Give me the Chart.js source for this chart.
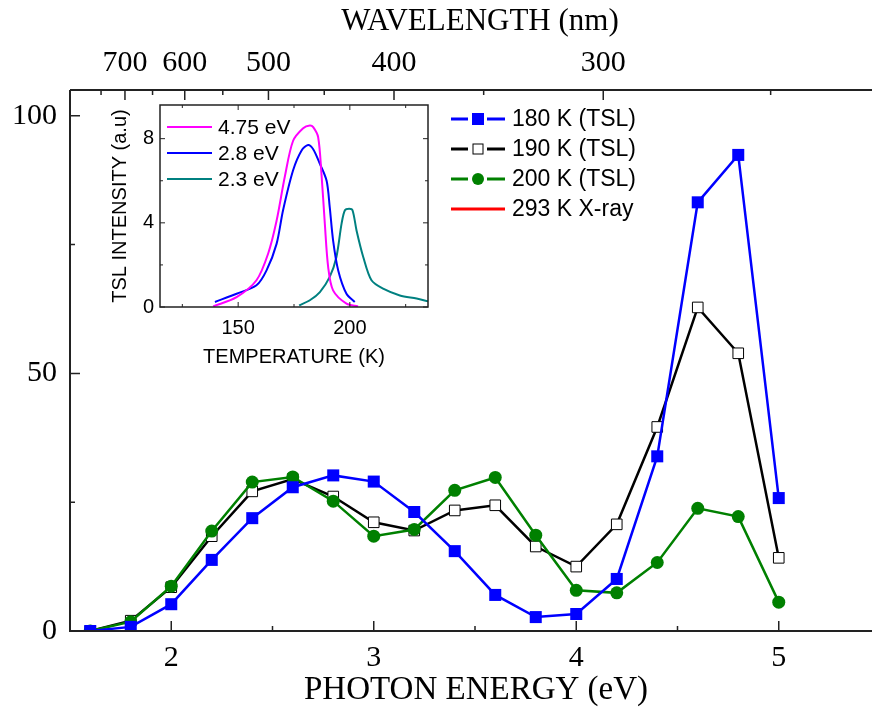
<!DOCTYPE html>
<html>
<head>
<meta charset="utf-8">
<title>TSL spectra</title>
<script src="https://cdn.jsdelivr.net/npm/chart.js@4.4.1/dist/chart.umd.min.js"></script>
<style>
  html, body { margin: 0; padding: 0; background: #fff; overflow: hidden; }
  #wrap { position: relative; width: 880px; height: 709px; }
  #mainBox { position: absolute; left: 0; top: 0; }
  #insetBox { position: absolute; left: 100px; top: 95px; }
</style>
</head>
<body>
<div id="wrap">
  <div id="mainBox"><canvas id="mainChart" width="880" height="709"></canvas></div>
  <div id="insetBox"><canvas id="insetChart" width="340" height="285"></canvas></div>
</div>
<script>
// main plot: photon energy (eV) vs intensity
const energy = [1.6, 1.8, 2.0, 2.2, 2.4, 2.6, 2.8, 3.0, 3.2, 3.4, 3.6, 3.8, 4.0, 4.2, 4.4, 4.6, 4.8, 5.0];
const tsl180 = [0, 0.8, 5.2, 13.8, 21.9, 27.9, 30.2, 29.0, 23.1, 15.5, 7.0, 2.7, 3.3, 10.1, 33.9, 83.2, 92.4, 25.8];
const tsl190 = [0, 2.0, 8.5, 18.4, 27.1, 29.5, 26.1, 21.1, 19.5, 23.4, 24.4, 16.4, 12.5, 20.7, 39.6, 62.8, 53.9, 14.2];
const tsl200 = [0, 1.8, 8.7, 19.4, 28.9, 29.9, 25.2, 18.4, 19.7, 27.3, 29.8, 18.6, 7.9, 7.4, 13.3, 23.8, 22.2, 5.6];
const xray293 = []; // only shown in the legend

const xMajor = [2, 3, 4, 5];
const xMinor = [2.5, 3.5, 4.5];
const yMajor = [0, 50, 100];
const yMinor = [25, 75];
const wlMajor = [700, 600, 500, 400, 300];
const wlMinor = [750, 650, 550, 450, 350, 250];

// inset: glow curves (temperature K vs intensity)
const t475 = [138.8, 149.3, 158.2, 163.4, 167.2, 170.9, 174.6, 179.1, 182.1, 183.6, 185.8, 187.3, 188.8, 190.3, 192.5, 198.5, 203.7];
const i475 = [0.03, 0.47, 1.27, 2.53, 4.1, 6.2, 7.9, 8.5, 8.63, 8.55, 8.08, 6.33, 3.96, 1.9, 0.79, 0.16, 0.03];
const t28 = [139.6, 149.3, 158.2, 162.7, 167.2, 170.1, 174.6, 178.4, 181.3, 183.6, 186.6, 189.6, 191.0, 192.5, 194.8, 198.5, 202.2];
const i28 = [0.24, 0.63, 1.03, 1.74, 3.0, 4.6, 6.5, 7.44, 7.7, 7.5, 6.8, 6.0, 4.75, 3.17, 1.74, 0.63, 0.24];
const t23 = [177.3, 182.1, 186.6, 191.0, 194.0, 196.3, 197.8, 199.7, 201.2, 203.0, 206.0, 209.7, 214.9, 222.4, 229.9, 235.1];
const i23 = [0.08, 0.32, 0.71, 1.43, 2.38, 3.96, 4.6, 4.67, 4.6, 3.64, 2.38, 1.27, 0.87, 0.55, 0.4, 0.27];

const tMajor = [150, 200];
const tMinor = [125, 175, 225];
const iMajor = [0, 4, 8];
const iMinor = [2, 6];

const pairs = (xs, ys) => xs.map((x, i) => ({ x: x, y: ys[i] }));

function drawMarker(ctx, style, x, y, color) {
    ctx.save();
    ctx.lineWidth = 1;
    if (style === 'filledSquare') {
        ctx.fillStyle = color;
        ctx.fillRect(x - 6, y - 6, 12, 12);
    } else if (style === 'openSquare') {
        ctx.fillStyle = '#fff';
        ctx.strokeStyle = '#000';
        ctx.fillRect(x - 5, y - 5, 10, 10);
        ctx.strokeRect(x - 5, y - 5, 10, 10);
    } else if (style === 'circle') {
        ctx.fillStyle = color;
        ctx.beginPath();
        ctx.arc(x, y, 6, 0, Math.PI * 2);
        ctx.fill();
    }
    ctx.restore();
}

// frame, inward ticks, labels and legend of the main plot
const mainAxes = {
    id: 'mainAxes',
    afterDatasetsDraw(chart) {
        const { ctx, chartArea: a, scales } = chart;
        const xs = scales.x, ys = scales.y;
        ctx.save();
        ctx.strokeStyle = '#222';
        ctx.lineWidth = 2;
        ctx.beginPath();
        ctx.moveTo(a.left, a.top); ctx.lineTo(a.left, a.bottom); ctx.lineTo(a.right, a.bottom);
        ctx.moveTo(a.left, a.top); ctx.lineTo(a.right, a.top);
        ctx.stroke();

        ctx.lineWidth = 1.5;
        ctx.beginPath();
        xMajor.forEach(v => { const p = xs.getPixelForValue(v); ctx.moveTo(p, a.bottom); ctx.lineTo(p, a.bottom - 10); });
        xMinor.forEach(v => { const p = xs.getPixelForValue(v); ctx.moveTo(p, a.bottom); ctx.lineTo(p, a.bottom - 5); });
        yMajor.forEach(v => { const p = ys.getPixelForValue(v); ctx.moveTo(a.left, p); ctx.lineTo(a.left + 10, p); });
        yMinor.forEach(v => { const p = ys.getPixelForValue(v); ctx.moveTo(a.left, p); ctx.lineTo(a.left + 5, p); });
        wlMajor.forEach(v => { const p = xs.getPixelForValue(1240 / v); ctx.moveTo(p, a.top); ctx.lineTo(p, a.top + 10); });
        wlMinor.forEach(v => { const p = xs.getPixelForValue(1240 / v); ctx.moveTo(p, a.top); ctx.lineTo(p, a.top + 5); });
        ctx.stroke();

        ctx.fillStyle = '#000';
        ctx.font = '30px "Liberation Serif"';
        ctx.textAlign = 'center';
        ctx.textBaseline = 'middle';
        xMajor.forEach(v => ctx.fillText(String(v), xs.getPixelForValue(v), a.bottom + 27));
        wlMajor.forEach(v => ctx.fillText(String(v), xs.getPixelForValue(1240 / v), a.top - 27));
        ctx.textAlign = 'right';
        yMajor.forEach(v => ctx.fillText(String(v), a.left - 13, ys.getPixelForValue(v)));

        ctx.textAlign = 'center';
        ctx.font = '33px "Liberation Serif"';
        ctx.fillText('PHOTON ENERGY (eV)', 476, a.bottom + 59);
        ctx.font = '31px "Liberation Serif"';
        ctx.fillText('WAVELENGTH (nm)', 480, 22);
        ctx.restore();
    },
    afterDraw(chart) {
        const { ctx } = chart;
        ctx.save();
        ctx.font = '23px "Liberation Sans"';
        ctx.textAlign = 'left';
        ctx.textBaseline = 'middle';
        chart.data.datasets.forEach((ds, i) => {
            const y = 119 + i * 30;
            ctx.strokeStyle = ds.borderColor;
            ctx.lineWidth = 3;
            ctx.beginPath();
            if (ds.legendMarker) {
                ctx.moveTo(451, y); ctx.lineTo(468, y);
                ctx.moveTo(487, y); ctx.lineTo(505, y);
            } else {
                ctx.moveTo(451, y); ctx.lineTo(505, y);
            }
            ctx.stroke();
            if (ds.legendMarker) drawMarker(ctx, ds.legendMarker, 478, y, ds.borderColor);
            ctx.fillStyle = '#000';
            ctx.fillText(ds.label, 512, y + 1);
        });
        ctx.restore();
    }
};

new Chart(document.getElementById('mainChart'), {
    type: 'line',
    data: {
        datasets: [
            {
                label: '180 K (TSL)', data: pairs(energy, tsl180), order: 0,
                borderColor: '#0000ff', backgroundColor: '#0000ff', borderWidth: 2.5,
                pointStyle: 'rect', pointRadius: 8.5, pointBorderWidth: 0,
                legendMarker: 'filledSquare'
            },
            {
                label: '190 K (TSL)', data: pairs(energy, tsl190), order: 2,
                borderColor: '#000000', backgroundColor: '#ffffff', borderWidth: 2.5,
                pointStyle: 'rect', pointRadius: 7.5, pointBorderWidth: 1, pointBorderColor: '#000',
                legendMarker: 'openSquare'
            },
            {
                label: '200 K (TSL)', data: pairs(energy, tsl200), order: 1,
                borderColor: '#008000', backgroundColor: '#008000', borderWidth: 2.5,
                pointStyle: 'circle', pointRadius: 6.5, pointBorderWidth: 0,
                legendMarker: 'circle'
            },
            {
                label: '293 K X-ray', data: pairs(energy, xray293), order: 3,
                borderColor: '#ff0000', backgroundColor: '#ff0000', borderWidth: 2.5,
                pointRadius: 0
            }
        ]
    },
    options: {
        responsive: false,
        animation: false,
        layout: { autoPadding: false, padding: { left: 70, top: 90, right: 0, bottom: 78 } },
        plugins: { legend: { display: false }, tooltip: { enabled: false } },
        scales: {
            x: { type: 'linear', min: 1.5, max: 5.5, display: false },
            y: { type: 'linear', min: 0, max: 105, display: false }
        }
    },
    plugins: [mainAxes]
});

// frame, ticks, labels and legend of the inset
const insetAxes = {
    id: 'insetAxes',
    afterDatasetsDraw(chart) {
        const { ctx, chartArea: a, scales } = chart;
        const xs = scales.x, ys = scales.y;
        ctx.save();
        ctx.strokeStyle = '#222';
        ctx.lineWidth = 1.5;
        ctx.strokeRect(a.left, a.top, a.right - a.left, a.bottom - a.top);
        ctx.lineWidth = 1;
        ctx.beginPath();
        const tickX = (v, len) => {
            const p = xs.getPixelForValue(v);
            ctx.moveTo(p, a.bottom); ctx.lineTo(p, a.bottom - len);
            ctx.moveTo(p, a.top); ctx.lineTo(p, a.top + len);
        };
        const tickY = (v, len) => {
            const p = ys.getPixelForValue(v);
            ctx.moveTo(a.left, p); ctx.lineTo(a.left + len, p);
            ctx.moveTo(a.right, p); ctx.lineTo(a.right - len, p);
        };
        tMajor.forEach(v => tickX(v, 5));
        tMinor.forEach(v => tickX(v, 3));
        iMajor.forEach(v => tickY(v, 5));
        iMinor.forEach(v => tickY(v, 3));
        ctx.stroke();

        ctx.fillStyle = '#000';
        ctx.font = '20px "Liberation Sans"';
        ctx.textBaseline = 'middle';
        ctx.textAlign = 'center';
        tMajor.forEach(v => ctx.fillText(String(v), xs.getPixelForValue(v), a.bottom + 21));
        ctx.textAlign = 'right';
        iMajor.forEach(v => ctx.fillText(String(v), a.left - 6, ys.getPixelForValue(v)));
        ctx.textAlign = 'center';
        ctx.fillText('TEMPERATURE (K)', (a.left + a.right) / 2, a.bottom + 50);
        ctx.save();
        ctx.translate(a.left - 40, (a.top + a.bottom) / 2);
        ctx.rotate(-Math.PI / 2);
        ctx.fillText('TSL INTENSITY (a.u)', 0, 0);
        ctx.restore();

        ctx.font = '21px "Liberation Sans"';
        ctx.textAlign = 'left';
        chart.data.datasets.forEach((ds, i) => {
            const y = a.top + 22 + i * 26;
            ctx.strokeStyle = ds.borderColor;
            ctx.lineWidth = 2;
            ctx.beginPath();
            ctx.moveTo(a.left + 7, y); ctx.lineTo(a.left + 52, y);
            ctx.stroke();
            ctx.fillText(ds.label, a.left + 58, y + 1);
        });
        ctx.restore();
    }
};

new Chart(document.getElementById('insetChart'), {
    type: 'line',
    data: {
        datasets: [
            { label: '4.75 eV', data: pairs(t475, i475), borderColor: '#ff00ff', borderWidth: 2, pointRadius: 0, tension: 0.3 },
            { label: '2.8 eV', data: pairs(t28, i28), borderColor: '#0000ff', borderWidth: 2, pointRadius: 0, tension: 0.3 },
            { label: '2.3 eV', data: pairs(t23, i23), borderColor: '#008080', borderWidth: 2, pointRadius: 0, tension: 0.3 }
        ]
    },
    options: {
        responsive: false,
        animation: false,
        layout: { autoPadding: false, padding: { left: 60, top: 10, right: 12, bottom: 73 } },
        plugins: { legend: { display: false }, tooltip: { enabled: false } },
        scales: {
            x: { type: 'linear', min: 115, max: 235, display: false },
            y: { type: 'linear', min: 0, max: 9.6, display: false }
        }
    },
    plugins: [insetAxes]
});
</script>
</body>
</html>
